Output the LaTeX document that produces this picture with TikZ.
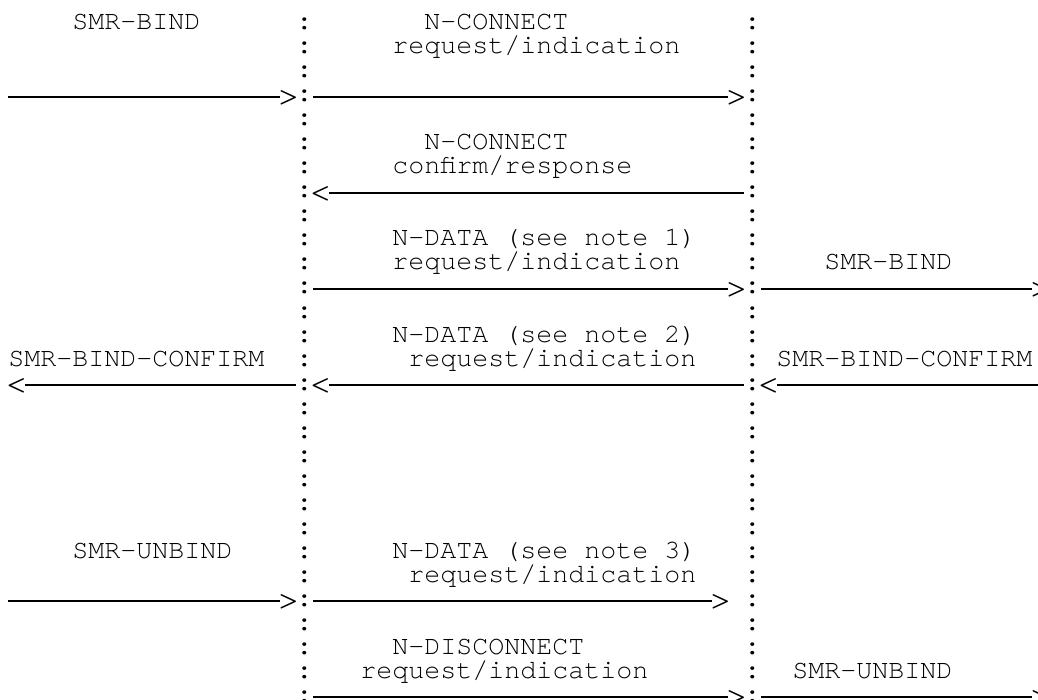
\documentclass[tikz,border=0pt]{standalone}
\usepackage{fontspec}
\usepackage{graphicx}
\setmonofont{TeX Gyre Cursor}
\newcommand{\rtip}{\makebox[8pt][c]{\raisebox{-2.6pt}{\scalebox{1.5}[1.45]{>}}}}
\newcommand{\ltip}{\makebox[8pt][c]{\raisebox{-2.6pt}{\scalebox{1.5}[1.45]{<}}}}
\tikzset{
  glyph/.style={anchor=west, inner sep=0pt, text height=7.5pt, text depth=2.5pt,
    font=\ttfamily\fontsize{13.33}{16}\selectfont},
  msgline/.style={line width=0.9pt},
}
\begin{document}
\begin{tikzpicture}[x=8pt, y=-12pt]  % one unit = one character cell
	\useasboundingbox (-0.5,-1.0417) rectangle (64.375,28.125);
	\clip (-0.5,-1.0417) rectangle (64.375,28.125);
	% colon columns
	\foreach \r in {0,...,28} {
		\node[glyph] (L\r) at (18,\r) {\bfseries :};
		\node[glyph] (R\r) at (46,\r) {\bfseries :};
	}
	% labels
	\node[glyph] (bindA) at (4,0) {SMR-BIND};
	\node[glyph] (conA) at (26,0) {N-CONNECT};
	\node[glyph] (reqA) at (24,1) {request/indication};
	\node[glyph] (conB) at (26,5) {N-CONNECT};
	\node[glyph] (cnfB) at (24,6) {confirm/response};
	\node[glyph] (dataC) at (24,9) {N-DATA (see note 1)};
	\node[glyph] (reqC) at (24,10) {request/indication};
	\node[glyph] (bindC) at (51,10) {SMR-BIND};
	\node[glyph] (dataD) at (24,13) {N-DATA (see note 2)};
	\node[glyph] (cfmL) at (0,14) {SMR-BIND-CONFIRM};
	\node[glyph] (reqD) at (25,14) {request/indication};
	\node[glyph] (cfmR) at (48,14) {SMR-BIND-CONFIRM};
	\node[glyph] (unbindE) at (4,22) {SMR-UNBIND};
	\node[glyph] (dataE) at (24,22) {N-DATA (see note 3)};
	\node[glyph] (reqE) at (25,23) {request/indication};
	\node[glyph] (discF) at (24,26) {N-DISCONNECT};
	\node[glyph] (reqF) at (22,27) {request/indication};
	\node[glyph] (unbindF) at (49,27) {SMR-UNBIND};
	% N-CONNECT request
	\coordinate (a3) at (0,3);
	\node[glyph] (g3a) at (17,3) {\rtip};
	\node[glyph] (g3b) at (45,3) {\rtip};
	\draw[msgline] (a3) -- (g3a.west);
	\draw[msgline] (L3.east) -- (g3b.west);
	% N-CONNECT confirm
	\node[glyph] (l7) at (19,7) {\ltip};
	\draw[msgline] (l7.east) -- (R7.west);
	% note 1
	\node[glyph] (g11a) at (45,11) {\rtip};
	\node[glyph] (g11b) at (64,11) {\rtip};
	\draw[msgline] (L11.east) -- (g11a.west);
	\draw[msgline] (R11.east) -- (g11b.west);
	% note 2
	\node[glyph] (l15a) at (0,15) {\ltip};
	\node[glyph] (l15b) at (19,15) {\ltip};
	\node[glyph] (l15c) at (47,15) {\ltip};
	\coordinate (e15) at (65,15);
	\draw[msgline] (l15a.east) -- (L15.west);
	\draw[msgline] (l15b.east) -- (R15.west);
	\draw[msgline] (l15c.east) -- (e15);
	% note 3
	\coordinate (a24) at (0,24);
	\node[glyph] (g24a) at (17,24) {\rtip};
	\node[glyph] (g24b) at (44,24) {\rtip};
	\draw[msgline] (a24) -- (g24a.west);
	\draw[msgline] (L24.east) -- (g24b.west);
	% N-DISCONNECT
	\node[glyph] (g28a) at (45,28) {\rtip};
	\node[glyph] (g28b) at (64,28) {\rtip};
	\draw[msgline] (L28.east) -- (g28a.west);
	\draw[msgline] (R28.east) -- (g28b.west);
\end{tikzpicture}
\end{document}
